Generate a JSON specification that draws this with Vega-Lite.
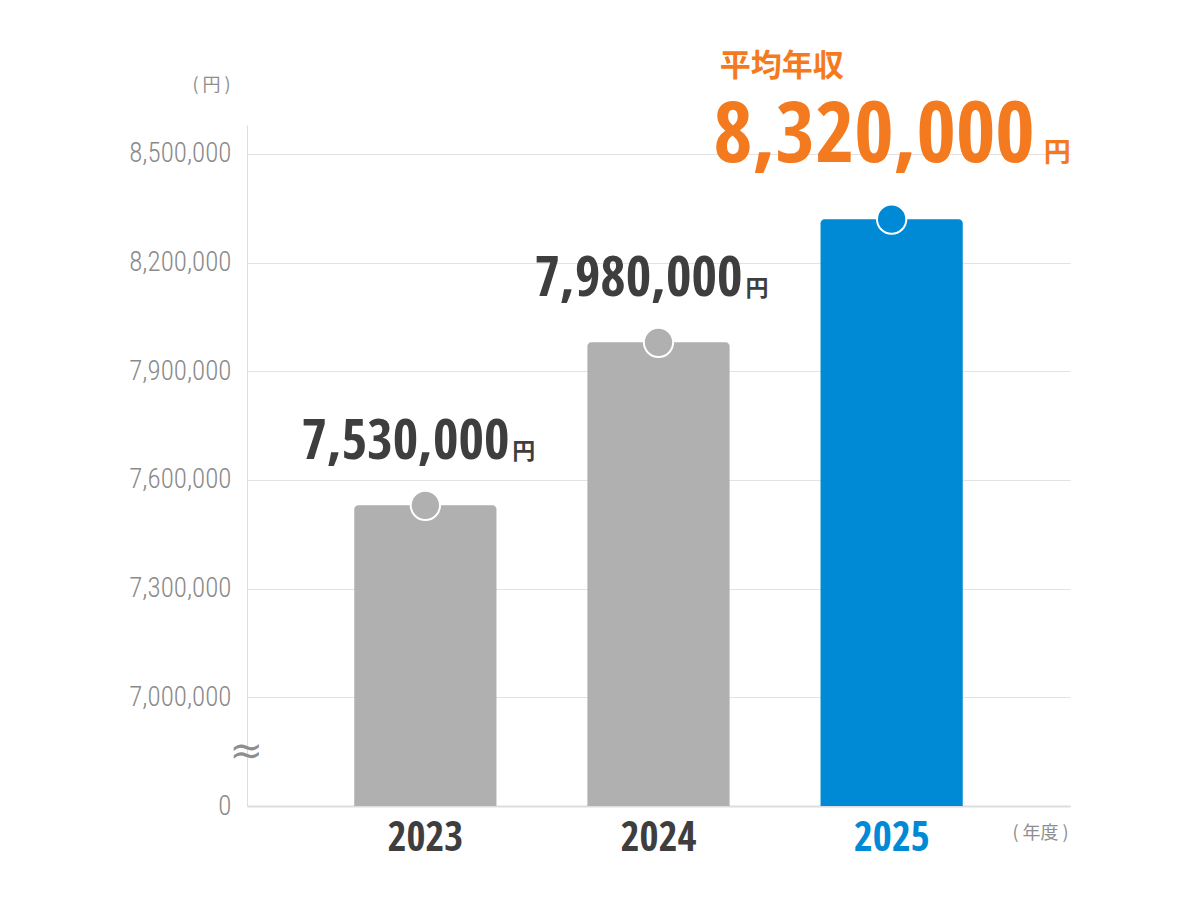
{
  "$schema": "https://vega.github.io/schema/vega-lite/v6.json",
  "width": 823,
  "height": 681,
  "autosize": "none",
  "padding": {"left": 247, "top": 125, "right": 130, "bottom": 94},
  "background": "white",
  "config": {"view": {"stroke": null}},
  "data": {
    "values": [
      {"year": "2023", "value": 7530000, "latest": false},
      {"year": "2024", "value": 7980000, "latest": false},
      {"year": "2025", "value": 8320000, "latest": true}
    ]
  },
  "encoding": {
    "x": {
      "field": "year",
      "type": "nominal",
      "scale": {"paddingInner": 0.39, "paddingOuter": 0.46},
      "axis": {
        "title": "( 年度 )",
        "titleX": 793,
        "titleY": 27,
        "titleAlign": "center",
        "titleBaseline": "middle",
        "titleFont": "Noto Sans CJK JP",
        "titleFontSize": 18,
        "titleFontWeight": "normal",
        "titleColor": "#8e8e8e",
        "labelAngle": 0,
        "labelFont": "Open Sans Condensed",
        "labelFontWeight": "bold",
        "labelFontSize": 41,
        "labelPadding": 12,
        "labelColor": {"condition": {"test": "datum.value == '2025'", "value": "#0089d5"}, "value": "#3e3e3e"},
        "ticks": false,
        "domainColor": "#dddddd",
        "domainWidth": 2
      }
    },
    "y": {
      "field": "value",
      "type": "quantitative",
      "scale": {"domain": [6700000, 8580000], "nice": false, "zero": false},
      "axis": {
        "values": [6700000, 7000000, 7300000, 7600000, 7900000, 8200000, 8500000],
        "labelExpr": "datum.value == 6700000 ? '0' : format(datum.value, ',')",
        "title": "(  円  )",
        "titleAngle": 0,
        "titleX": -36,
        "titleY": -40,
        "titleAlign": "center",
        "titleBaseline": "middle",
        "titleFont": "Noto Sans CJK JP",
        "titleFontSize": 18,
        "titleFontWeight": "normal",
        "titleColor": "#8e8e8e",
        "labelFont": "Roboto Condensed",
        "labelFontWeight": 300,
        "labelFontSize": 27,
        "labelColor": "#8a8a8a",
        "labelPadding": 16,
        "ticks": false,
        "domainColor": "#dddddd",
        "gridColor": "#e2e2e2",
        "grid": true
      }
    }
  },
  "layer": [
    {
      "mark": {"type": "bar", "cornerRadiusTopLeft": 4, "cornerRadiusTopRight": 4},
      "encoding": {
        "y2": {"datum": 6700000},
        "color": {"condition": {"test": "datum.latest", "value": "#0089d5"}, "value": "#b0b0b0"}
      }
    },
    {
      "mark": {"type": "circle", "size": 860, "stroke": "white", "strokeWidth": 2, "opacity": 1},
      "encoding": {
        "color": {"condition": {"test": "datum.latest", "value": "#0089d5"}, "value": "#b0b0b0"}
      }
    },
    {
      "transform": [{"filter": "!datum.latest"}],
      "mark": {"type": "text", "align": "right", "baseline": "alphabetic", "dx": 84, "dy": -46, "font": "Open Sans Condensed", "fontWeight": 800, "fontSize": 55, "color": "#3e3e3e"},
      "encoding": {"text": {"field": "value", "type": "quantitative", "format": ","}}
    },
    {
      "transform": [{"filter": "!datum.latest"}],
      "mark": {"type": "text", "align": "left", "baseline": "alphabetic", "dx": 87, "dy": -46, "font": "Noto Sans CJK JP", "fontWeight": "bold", "fontSize": 23, "color": "#3e3e3e"},
      "encoding": {"text": {"value": "円"}}
    },
    {
      "transform": [{"filter": "datum.latest"}],
      "mark": {"type": "text", "align": "right", "baseline": "alphabetic", "dx": 143, "dy": -57, "font": "Open Sans Condensed", "fontWeight": 800, "fontSize": 85, "color": "#f47a20"},
      "encoding": {"text": {"field": "value", "type": "quantitative", "format": ","}}
    },
    {
      "transform": [{"filter": "datum.latest"}],
      "mark": {"type": "text", "align": "left", "baseline": "alphabetic", "dx": 152, "dy": -57, "font": "Noto Sans CJK JP", "fontWeight": "bold", "fontSize": 27, "color": "#f47a20"},
      "encoding": {"text": {"value": "円"}}
    },
    {
      "transform": [{"filter": "datum.latest"}],
      "mark": {"type": "text", "align": "left", "baseline": "alphabetic", "dx": -172, "dy": -143, "font": "Noto Sans CJK JP", "fontWeight": "bold", "fontSize": 31, "color": "#f47a20"},
      "encoding": {"text": {"value": "平均年収"}}
    },
    {
      "data": {"values": [{"year": "2023", "at": 6850000}]},
      "mark": {"type": "text", "align": "center", "baseline": "middle", "dx": -179, "font": "DejaVu Sans", "fontSize": 40, "color": "#8e8e8e"},
      "encoding": {
        "x": {"field": "year", "type": "nominal"},
        "y": {"field": "at", "type": "quantitative"},
        "text": {"value": "≈"}
      }
    }
  ]
}
